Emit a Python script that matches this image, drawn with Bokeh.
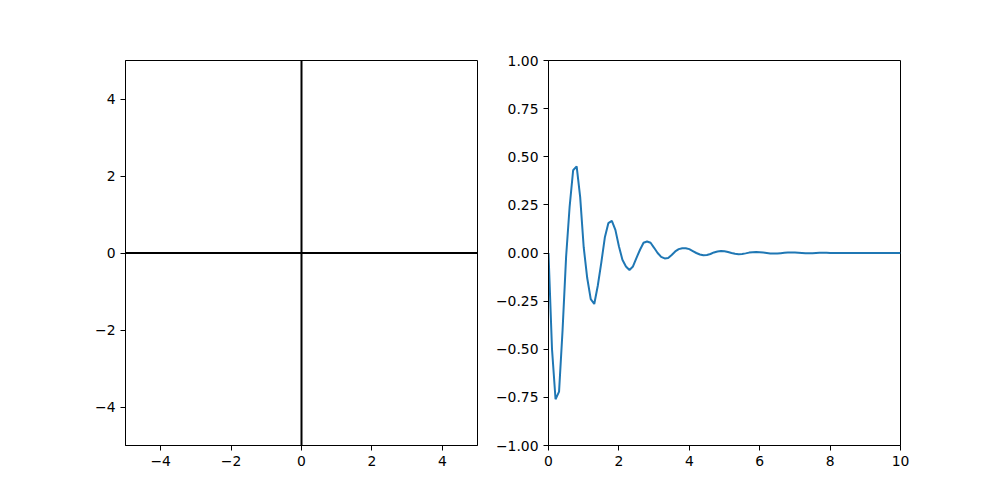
from bokeh.plotting import figure
from bokeh.layouts import row
from bokeh.models import Range1d, FixedTicker, Span
from bokeh.embed import file_html
from bokeh.resources import INLINE

# ---- data ----
left_ticks = [-4, -2, 0, 2, 4]
right_xticks = [0, 2, 4, 6, 8, 10]
right_yticks = [-1.0, -0.75, -0.5, -0.25, 0.0, 0.25, 0.5, 0.75, 1.0]
cross_x = 0
cross_y = 0

t = [round(i * 0.1, 1) for i in range(101)]
s = [
    0.000, -0.500, -0.760, -0.720, -0.400, -0.020, 0.240, 0.430, 0.450, 0.290,
    0.030, -0.130, -0.240, -0.265, -0.170, -0.050, 0.080, 0.155, 0.167, 0.120,
    0.035, -0.035, -0.070, -0.088, -0.070, -0.025, 0.017, 0.053, 0.060, 0.053,
    0.027, 0.000, -0.020, -0.028, -0.026, -0.010, 0.008, 0.020, 0.025, 0.025,
    0.020, 0.010, 0.000, -0.008, -0.012, -0.010, -0.005, 0.003, 0.008, 0.010,
    0.009, 0.005, 0.000, -0.004, -0.006, -0.005, -0.002, 0.002, 0.004, 0.005,
    0.004, 0.002, 0.000, -0.002, -0.003, -0.003, -0.001, 0.001, 0.002, 0.002,
    0.002, 0.001, 0.000, -0.001, -0.001, -0.001, 0.000, 0.001, 0.001, 0.001,
    0.000, 0.000, 0.000, 0.000, 0.000, 0.000, 0.000, 0.000, 0.000, 0.000,
    0.000, 0.000, 0.000, 0.000, 0.000, 0.000, 0.000, 0.000, 0.000, 0.000,
    0.000,
]

FONT = "DejaVu Sans"
FSIZE = "13.9px"


def fmt(v, dec):
    txt = f"{v:.{dec}f}"
    if v < 0:
        txt = "\u2212" + txt[1:]
    return txt


def style(p):
    p.outline_line_color = "black"
    p.outline_line_width = 1
    p.xgrid.visible = False
    p.ygrid.visible = False
    p.background_fill_color = "white"
    p.border_fill_color = "white"
    for ax in (p.xaxis[0], p.yaxis[0]):
        ax.axis_line_color = "black"
        ax.major_tick_line_color = "black"
        ax.major_tick_out = 5
        ax.major_tick_in = 0
        ax.minor_tick_line_color = None
        ax.major_label_text_font = FONT
        ax.major_label_text_font_size = FSIZE
        ax.major_label_text_color = "black"
        ax.major_label_standoff = 5


p1 = figure(width=487, height=485, output_backend="svg", toolbar_location=None,
            x_range=Range1d(-5, 5), y_range=Range1d(-5, 5))
p1.min_border_left = 125
p1.min_border_right = 10
p1.min_border_top = 60
p1.min_border_bottom = 40
style(p1)
p1.xaxis.ticker = FixedTicker(ticks=left_ticks)
p1.yaxis.ticker = FixedTicker(ticks=left_ticks)
p1.xaxis.major_label_overrides = {v: fmt(v, 0) for v in left_ticks}
p1.yaxis.major_label_overrides = {v: fmt(v, 0) for v in left_ticks}
p1.add_layout(Span(location=cross_y, dimension="width", line_color="black", line_width=2))
p1.add_layout(Span(location=cross_x, dimension="height", line_color="black", line_width=2))

p2 = figure(width=453, height=485, output_backend="svg", toolbar_location=None,
            x_range=Range1d(0, 10), y_range=Range1d(-1, 1))
p2.min_border_left = 61
p2.min_border_right = 40
p2.min_border_top = 60
p2.min_border_bottom = 40
style(p2)
p2.xaxis.ticker = FixedTicker(ticks=right_xticks)
p2.yaxis.ticker = FixedTicker(ticks=right_yticks)
p2.xaxis.major_label_overrides = {v: fmt(v, 0) for v in right_xticks}
p2.yaxis.major_label_overrides = {v: fmt(v, 2) for v in right_yticks}
p2.line(t, s, line_color="#1f77b4", line_width=2)

layout = row(p1, p2)
open("out.html", "w").write(file_html(layout, INLINE))
